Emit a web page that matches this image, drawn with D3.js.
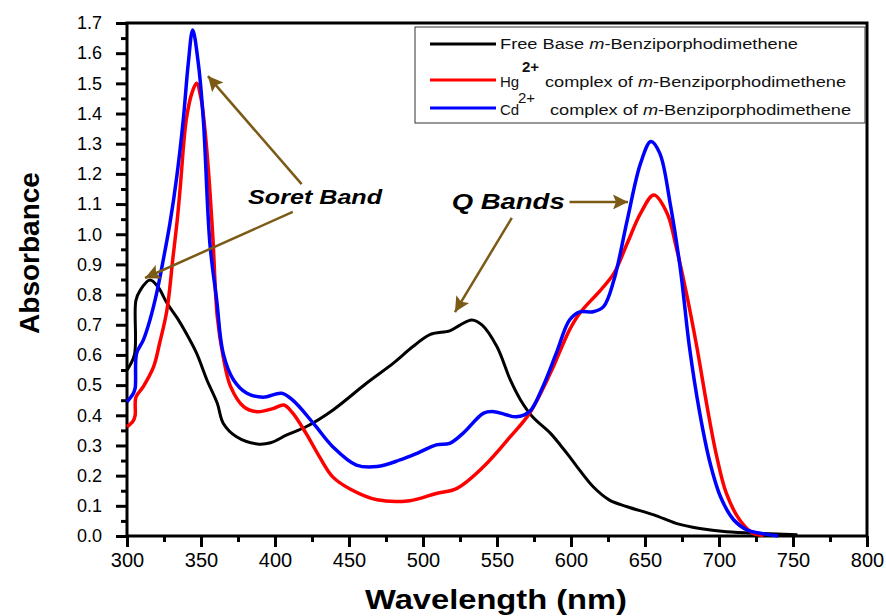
<!DOCTYPE html>
<html>
<head>
<meta charset="utf-8">
<script src="https://cdn.jsdelivr.net/npm/d3@7"></script>
<style>
  body { margin: 0; background: #fff; }
  text { font-family: "Liberation Sans", Arial, sans-serif; }
</style>
</head>
<body>
<div id="chart"></div>
<script>
// wavelength (nm) / absorbance
var freeBaseNm  = [300, 305, 306, 309, 315.5, 321, 327, 334, 340, 347, 354, 361, 365, 374, 388, 397, 408, 421, 439, 462, 480, 493, 505, 518, 525, 533, 540, 550, 559, 566, 574, 586, 593, 599, 604, 615, 626, 638, 656, 671, 687, 705, 730, 753]
var freeBaseAbs = [0.55, 0.60, 0.78, 0.815, 0.848, 0.825, 0.772, 0.722, 0.672, 0.606, 0.517, 0.44, 0.374, 0.329, 0.305, 0.309, 0.335, 0.362, 0.417, 0.507, 0.573, 0.627, 0.668, 0.68, 0.699, 0.716, 0.699, 0.627, 0.517, 0.45, 0.395, 0.341, 0.30, 0.263, 0.23, 0.163, 0.119, 0.097, 0.07, 0.042, 0.025, 0.014, 0.008, 0.004]

var hgNm  = [300, 304, 305.5, 306, 311, 318, 322, 327, 331, 334, 336, 340, 344, 347, 350, 352, 355, 358, 361, 365, 370, 379, 388, 399, 406, 412, 421, 430, 439, 451, 469, 491, 509, 523, 541, 559, 572, 586, 592, 599, 606, 620, 629, 638, 647, 656, 665, 671, 678, 685, 692, 698, 705, 714, 723, 730]
var hgAbs = [0.362, 0.38, 0.40, 0.46, 0.495, 0.561, 0.638, 0.749, 0.92, 1.05, 1.157, 1.378, 1.47, 1.50, 1.45, 1.378, 1.213, 0.99, 0.727, 0.594, 0.495, 0.428, 0.412, 0.423, 0.434, 0.407, 0.34, 0.263, 0.196, 0.155, 0.12, 0.117, 0.141, 0.158, 0.23, 0.329, 0.407, 0.539, 0.606, 0.683, 0.739, 0.815, 0.87, 0.97, 1.069, 1.13, 1.069, 0.959, 0.804, 0.627, 0.428, 0.274, 0.141, 0.053, 0.009, 0.002]

var cdNm  = [300, 304, 305.5, 306.5, 311, 315.5, 320, 324.5, 329, 333.6, 338, 341.4, 344.4, 348.2, 351.6, 356, 360.6, 365, 372, 381, 392, 404.5, 412, 426, 439, 455, 469, 484.5, 496, 509, 518, 527, 541, 548, 556, 563, 572, 581, 590, 599, 606, 615, 622, 629, 638, 647, 654, 660, 667, 674, 680, 687, 694, 701, 710, 719, 728, 740]
var cdAbs = [0.445, 0.47, 0.49, 0.605, 0.649, 0.716, 0.804, 0.915, 1.036, 1.19, 1.378, 1.566, 1.677, 1.566, 1.378, 0.97, 0.782, 0.605, 0.517, 0.473, 0.46, 0.473, 0.45, 0.373, 0.296, 0.235, 0.23, 0.252, 0.274, 0.302, 0.307, 0.34, 0.407, 0.412, 0.402, 0.395, 0.412, 0.495, 0.605, 0.716, 0.743, 0.743, 0.76, 0.848, 1.047, 1.235, 1.307, 1.268, 1.102, 0.881, 0.627, 0.407, 0.241, 0.13, 0.053, 0.02, 0.009, 0.0]

var xTicks = [300, 350, 400, 450, 500, 550, 600, 650, 700, 750, 800]
var yTicks = d3.range(0, 17.5, 1).map(d => d / 10)

var seriesColors = ["#000000", "#ff0000", "#0000ff"]

// annotation arrows in data units: [nmFrom, absFrom, nmTo, absTo]
var arrows = [
  [418, 1.166, 354.7, 1.524],
  [412, 1.074, 312.2, 0.855],
  [560, 1.054, 521.6, 0.742],
  [599, 1.107, 638.5, 1.107]
]

const W = 886, H = 616
const plotL = 127, plotR = 867, plotT = 23, plotB = 536

const svg = d3.select("#chart").append("svg")
  .attr("width", W)
  .attr("height", H)

const x = d3.scaleLinear().domain([300, 800]).range([plotL, plotR])
const y = d3.scaleLinear().domain([0, 1.7]).range([plotB, plotT])

// minor ticks first
svg.append("g")
  .attr("transform", `translate(0,${plotB})`)
  .call(d3.axisBottom(x).tickValues(d3.range(325, 800, 50)).tickSize(6).tickFormat(""))
  .call(g => g.select(".domain").remove())
  .call(g => g.selectAll("line").attr("stroke-width", 3))

svg.append("g")
  .attr("transform", `translate(${plotL},0)`)
  .call(d3.axisLeft(y).tickValues(d3.range(0.05, 1.7, 0.1)).tickSize(6).tickFormat(""))
  .call(g => g.select(".domain").remove())
  .call(g => g.selectAll("line").attr("stroke-width", 3))

const xAxis = svg.append("g")
  .attr("transform", `translate(0,${plotB})`)
  .call(d3.axisBottom(x).tickValues(xTicks).tickSize(11).tickPadding(6).tickFormat(d3.format("d")))
xAxis.select(".domain").remove()
xAxis.selectAll("line").attr("stroke-width", 3)
xAxis.selectAll("text").attr("font-size", 20).attr("fill", "#000")
  .attr("font-family", "Liberation Sans, Arial, sans-serif")

const yAxis = svg.append("g")
  .attr("transform", `translate(${plotL},0)`)
  .call(d3.axisLeft(y).tickValues(yTicks).tickSize(11).tickPadding(14).tickFormat(d3.format(".1f")))
yAxis.select(".domain").remove()
yAxis.selectAll("line").attr("stroke-width", 3)
yAxis.selectAll("text").attr("font-size", 18).attr("fill", "#000")
  .attr("font-family", "Liberation Sans, Arial, sans-serif")

// frame
svg.append("rect")
  .attr("x", plotL).attr("y", plotT)
  .attr("width", plotR - plotL).attr("height", plotB - plotT)
  .attr("fill", "none").attr("stroke", "#000").attr("stroke-width", 3)

// curves
const line = d3.line()
  .x(d => x(d[0]))
  .y(d => y(d[1]))
  .curve(d3.curveCatmullRom.alpha(0.5))

var series = [
  d3.zip(freeBaseNm, freeBaseAbs),
  d3.zip(hgNm, hgAbs),
  d3.zip(cdNm, cdAbs)
]

svg.append("g")
  .selectAll("path")
  .data(series)
  .join("path")
  .attr("d", line)
  .attr("fill", "none")
  .attr("stroke", (d, i) => seriesColors[i])
  .attr("stroke-width", (d, i) => i == 0 ? 3 : 3.5)
  .attr("stroke-linejoin", "round")

// arrows
const brown = "#7b5a16"
svg.append("defs").append("marker")
  .attr("id", "head")
  .attr("viewBox", "0 0 10 10")
  .attr("refX", 10).attr("refY", 5)
  .attr("markerWidth", 7).attr("markerHeight", 6)
  .attr("markerUnits", "strokeWidth")
  .attr("orient", "auto")
  .append("path")
  .attr("d", "M0,0 L10,5 L0,10 L2,5 Z")
  .attr("fill", brown)

svg.append("g")
  .selectAll("line")
  .data(arrows)
  .join("line")
  .attr("x1", d => x(d[0])).attr("y1", d => y(d[1]))
  .attr("x2", d => x(d[2])).attr("y2", d => y(d[3]))
  .attr("stroke", brown)
  .attr("stroke-width", 2.5)
  .attr("marker-end", "url(#head)")

svg.append("text")
  .attr("x", x(381.8)).attr("y", y(1.1))
  .attr("font-size", 20).attr("font-weight", "bold").attr("font-style", "italic")
  .attr("textLength", 134).attr("lengthAdjust", "spacingAndGlyphs")
  .text("Soret Band")

svg.append("text")
  .attr("x", x(519.4)).attr("y", y(1.083))
  .attr("font-size", 22).attr("font-weight", "bold").attr("font-style", "italic")
  .attr("textLength", 113).attr("lengthAdjust", "spacingAndGlyphs")
  .text("Q Bands")

// axis titles
svg.append("text")
  .attr("x", 496).attr("y", 609)
  .attr("text-anchor", "middle")
  .attr("font-size", 28).attr("font-weight", "bold")
  .attr("textLength", 262).attr("lengthAdjust", "spacingAndGlyphs")
  .text("Wavelength (nm)")

svg.append("text")
  .attr("transform", "translate(39,253) rotate(-90)")
  .attr("text-anchor", "middle")
  .attr("font-size", 28).attr("font-weight", "bold")
  .text("Absorbance")

// legend
const legend = svg.append("g")
legend.append("rect")
  .attr("x", 415).attr("y", 27)
  .attr("width", 450).attr("height", 96)
  .attr("fill", "#fff").attr("stroke", "#333").attr("stroke-width", 1)

var legendY = [44, 80, 108]
legend.selectAll("line")
  .data(seriesColors)
  .join("line")
  .attr("x1", 430).attr("x2", 496)
  .attr("y1", (d, i) => legendY[i]).attr("y2", (d, i) => legendY[i])
  .attr("stroke", d => d).attr("stroke-width", 3)

var t1 = legend.append("text")
  .attr("x", 500).attr("y", 49).attr("font-size", 14).attr("fill", "#111")
  .attr("textLength", 298).attr("lengthAdjust", "spacingAndGlyphs")
t1.append("tspan").text("Free Base ")
t1.append("tspan").attr("font-style", "italic").text("m")
t1.append("tspan").text("-Benziporphodimethene")

var metals = [["Hg", 87, 522, 72, 545], ["Cd", 115, 518, 103, 550]]
metals.forEach(function (m) {
  legend.append("text")
    .attr("x", 500).attr("y", m[1]).attr("font-size", 15).attr("fill", "#111")
    .text(m[0])
  legend.append("text")
    .attr("x", m[2]).attr("y", m[3]).attr("font-size", 15).attr("fill", "#111")
    .attr("font-weight", m[0] == "Hg" ? "bold" : "normal")
    .text("2+")
  var t = legend.append("text")
    .attr("x", m[4]).attr("y", m[1]).attr("font-size", 14).attr("fill", "#111")
    .attr("textLength", 301).attr("lengthAdjust", "spacingAndGlyphs")
  t.append("tspan").text("complex of ")
  t.append("tspan").attr("font-style", "italic").text("m")
  t.append("tspan").text("-Benziporphodimethene")
})
</script>
</body>
</html>
